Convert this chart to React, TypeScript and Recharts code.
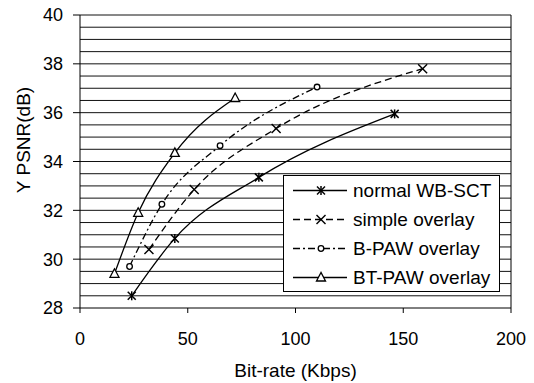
import {
  Legend,
  Line,
  LineChart,
  ReferenceLine,
  XAxis,
  YAxis,
} from 'recharts';

// bit-rate (Kbps) and Y PSNR (dB)
const normalRate = [24, 44, 83, 146];
const normalPsnr = [28.5, 30.85, 33.35, 35.95];
const simpleRate = [32, 53, 91, 159];
const simplePsnr = [30.4, 32.85, 35.35, 37.8];
const bpawRate = [23, 38, 65, 110];
const bpawPsnr = [29.7, 32.25, 34.65, 37.05];
const btpawRate = [16, 27, 44, 72];
const btpawPsnr = [29.4, 31.9, 34.35, 36.6];

const xTicks = [0, 50, 100, 150, 200];
const yTicks = [28, 30, 32, 34, 36, 38, 40];
const gridLines = [
  28.5, 29, 29.5, 30, 30.5, 31, 31.5, 32, 32.5, 33, 33.5, 34, 34.5, 35, 35.5,
  36, 36.5, 37, 37.5, 38, 38.5, 39, 39.5, 40,
];

const FONT = '"Liberation Sans", Arial, sans-serif';

type MarkerKind = 'star' | 'cross' | 'circle' | 'triangle';

const toPoints = (xs: number[], ys: number[]) =>
  xs.map((x, i) => ({ x, y: ys[i] }));

const series: Array<{
  name: string;
  data: Array<{ x: number; y: number }>;
  dash?: string;
  marker: MarkerKind;
}> = [
  { name: 'normal WB-SCT', data: toPoints(normalRate, normalPsnr), marker: 'star' },
  { name: 'simple overlay', data: toPoints(simpleRate, simplePsnr), dash: '7 4', marker: 'cross' },
  { name: 'B-PAW overlay', data: toPoints(bpawRate, bpawPsnr), dash: '7 3 2 3', marker: 'circle' },
  { name: 'BT-PAW overlay', data: toPoints(btpawRate, btpawPsnr), marker: 'triangle' },
];

const Marker = ({ kind, cx, cy }: { kind: MarkerKind; cx: number; cy: number }) => {
  if (kind === 'star') {
    return (
      <g stroke='#000' strokeWidth={1.5}>
        <line x1={cx - 4} y1={cy - 4} x2={cx + 4} y2={cy + 4} />
        <line x1={cx - 4} y1={cy + 4} x2={cx + 4} y2={cy - 4} />
        <line x1={cx} y1={cy - 4.5} x2={cx} y2={cy + 4.5} />
      </g>
    );
  }
  if (kind === 'cross') {
    return (
      <g stroke='#000' strokeWidth={1.4}>
        <line x1={cx - 4.5} y1={cy - 4.5} x2={cx + 4.5} y2={cy + 4.5} />
        <line x1={cx - 4.5} y1={cy + 4.5} x2={cx + 4.5} y2={cy - 4.5} />
      </g>
    );
  }
  if (kind === 'circle') {
    return <circle cx={cx} cy={cy} r={2.8} fill='#fff' stroke='#000' strokeWidth={1.3} />;
  }
  return (
    <polygon
      points={`${cx},${cy - 5} ${cx - 4.5},${cy + 3.5} ${cx + 4.5},${cy + 3.5}`}
      fill='#fff'
      stroke='#000'
      strokeWidth={1.3}
    />
  );
};

const renderLegend = () => (
  <div
    style={{
      boxSizing: 'border-box',
      width: 217,
      height: 117,
      border: '1px solid #000',
      background: '#fff',
      fontFamily: FONT,
      fontSize: 19,
      color: '#000',
    }}
  >
    {series.map((s) => (
      <div key={s.name} style={{ display: 'flex', alignItems: 'center', height: 29 }}>
        <svg width={68} height={29} style={{ flex: 'none' }}>
          <line
            x1={9}
            y1={14.5}
            x2={63}
            y2={14.5}
            stroke='#000'
            strokeWidth={1.3}
            strokeDasharray={s.dash}
          />
          <Marker kind={s.marker} cx={37} cy={14.5} />
        </svg>
        <span style={{ marginLeft: 1, whiteSpace: 'nowrap' }}>{s.name}</span>
      </div>
    ))}
  </div>
);

const App = () => {
  return (
    <div style={{ position: 'absolute', left: 0, top: 0, width: 534, height: 383, background: '#fff' }}>
      <LineChart
        width={534}
        height={383}
        margin={{ top: 15, right: 23, bottom: 0, left: 0 }}
      >
        {gridLines.map((v) => (
          <ReferenceLine key={v} y={v} stroke='#111' strokeWidth={1} />
        ))}
        <ReferenceLine x={200} stroke='#000' strokeWidth={1} />
        <XAxis
          type='number'
          dataKey='x'
          domain={[0, 200]}
          ticks={xTicks}
          allowDataOverflow
          height={75}
          tickSize={5}
          tickMargin={19}
          stroke='#000'
          tick={{ fill: '#000', fontSize: 18, fontFamily: FONT }}
          label={() => (
            <text
              x={295.5}
              y={370}
              textAnchor='middle'
              dominantBaseline='central'
              fill='#000'
              fontSize={19}
              fontFamily={FONT}
            >
              Bit-rate (Kbps)
            </text>
          )}
        />
        <YAxis
          type='number'
          domain={[28, 40]}
          ticks={yTicks}
          allowDataOverflow
          width={80}
          tickSize={7}
          tickMargin={10}
          stroke='#000'
          tick={{ fill: '#000', fontSize: 18, fontFamily: FONT }}
          label={() => (
            <text
              x={23}
              y={140}
              transform='rotate(-90 23 140)'
              textAnchor='middle'
              dominantBaseline='central'
              fill='#000'
              fontSize={19}
              fontFamily={FONT}
            >
              Y PSNR(dB)
            </text>
          )}
        />
        {series.map((s) => (
          <Line
            key={s.name}
            data={s.data}
            dataKey='y'
            name={s.name}
            type='monotone'
            stroke='#000'
            strokeWidth={1.3}
            strokeDasharray={s.dash}
            isAnimationActive={false}
            dot={(p: any) => (
              <Marker key={`${s.name}-${p.index}`} kind={s.marker} cx={p.cx} cy={p.cy} />
            )}
            activeDot={false}
          />
        ))}
        <Legend
          layout='vertical'
          align='center'
          verticalAlign='middle'
          content={renderLegend}
          wrapperStyle={{ left: 283, top: 175, width: 217, height: 117 }}
        />
      </LineChart>
    </div>
  );
};

export default App;
